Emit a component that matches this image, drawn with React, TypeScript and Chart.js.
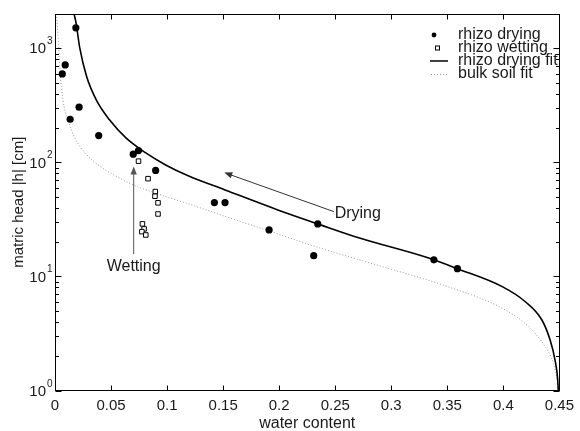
import React, { useEffect, useRef } from 'react';
import { Chart, registerables } from 'chart.js';

Chart.register(...registerables);

// ---- data ----
const DRYING_X = [0.0065, 0.0091, 0.0135, 0.0186, 0.0215, 0.039, 0.0698, 0.0745, 0.0898, 0.1422, 0.1517, 0.191, 0.2308, 0.2344, 0.338, 0.359];
const DRYING_H = [597, 716, 239, 1513, 305, 172, 118, 127, 85, 44.4, 44.4, 25.6, 15.2, 28.9, 14.0, 11.7];

const WETTING_X = [0.0745, 0.083, 0.0895, 0.0892, 0.0919, 0.0919, 0.078, 0.0795, 0.0775, 0.081];
const WETTING_H = [102.5, 72, 55.5, 50.5, 44.2, 35.3, 28.9, 26.1, 24.7, 23.1];

const FIT_X = [0.017, 0.0186, 0.0221, 0.028, 0.0368, 0.0486, 0.0633, 0.081, 0.0987, 0.1193, 0.1517, 0.1988, 0.2344, 0.2724, 0.3313, 0.3589, 0.399, 0.4196, 0.4344, 0.4417, 0.4461, 0.4485, 0.449];
const FIT_H = [2000, 1706, 1010, 574, 353, 236, 164, 121, 95, 76, 57.4, 38.3, 28.9, 21.6, 14.7, 11.7, 8.14, 6.0, 4.15, 2.77, 1.85, 1.24, 1.0];

const BULK_X = [0.0013, 0.00265, 0.0044, 0.0071, 0.0115, 0.0177, 0.0274, 0.0398, 0.0557, 0.0707, 0.0892, 0.1246, 0.1546, 0.1908, 0.2306, 0.2871, 0.346, 0.399, 0.4225, 0.4373, 0.4446, 0.4485, 0.4492];
const BULK_H = [2000, 1313, 648, 353, 236, 164, 119, 93, 74.6, 62.9, 54, 41.5, 32.9, 25.1, 18.5, 12.6, 8.42, 5.26, 3.63, 2.42, 1.73, 1.16, 1.0];

const X_TICKS = [0, 0.05, 0.1, 0.15, 0.2, 0.25, 0.3, 0.35, 0.4, 0.45];
const X_TICK_LABELS = ['0', '0.05', '0.1', '0.15', '0.2', '0.25', '0.3', '0.35', '0.4', '0.45'];
const Y_DECADES = [1, 10, 100, 1000];
const Y_EXPONENTS = ['0', '1', '2', '3'];

const LEGEND_LABELS = ['rhizo drying', 'rhizo wetting', 'rhizo drying fit', 'bulk soil fit'];

// annotations (data coordinates)
const DRYING_ARROW = { x1: 0.2488, y1: 37, x2: 0.151, y2: 81.4 };
const DRYING_TEXT = { x: 0.2495, y: 35.7, text: 'Drying' };
const WETTING_ARROW = { x1: 0.0702, y1: 15.7, x2: 0.0702, y2: 92 };
const WETTING_TEXT = { x: 0.0702, y: 12.3, text: 'Wetting' };

const FONT = "'Liberation Sans', Arial, Helvetica, sans-serif";
const TEXT = '#1a1a1a';

const pts = (xs: number[], ys: number[]) => xs.map((x, i) => ({ x, y: ys[i] }));

function arrow(ctx: CanvasRenderingContext2D, x1: number, y1: number, x2: number, y2: number, color: string) {
  const ang = Math.atan2(y2 - y1, x2 - x1);
  const L = 8, W = 3.2;
  ctx.save();
  ctx.strokeStyle = color;
  ctx.fillStyle = color;
  ctx.lineWidth = 1;
  ctx.beginPath();
  ctx.moveTo(x1, y1);
  ctx.lineTo(x2 - Math.cos(ang) * L * 0.8, y2 - Math.sin(ang) * L * 0.8);
  ctx.stroke();
  ctx.beginPath();
  ctx.moveTo(x2, y2);
  ctx.lineTo(x2 - Math.cos(ang) * L - Math.sin(ang) * W, y2 - Math.sin(ang) * L + Math.cos(ang) * W);
  ctx.lineTo(x2 - Math.cos(ang) * L + Math.sin(ang) * W, y2 - Math.sin(ang) * L - Math.cos(ang) * W);
  ctx.closePath();
  ctx.fill();
  ctx.restore();
}

const overlay = {
  id: 'overlay',
  afterDraw(chart: any) {
    const ctx: CanvasRenderingContext2D = chart.ctx;
    const xs = chart.scales.x;
    const ys = chart.scales.y;
    const { left, right, top, bottom } = chart.chartArea;
    const L = Math.floor(left) + 0.5, R = Math.floor(right) + 0.5, T = Math.floor(top) + 0.5, B = Math.floor(bottom) + 0.5;
    ctx.save();
    // box
    ctx.strokeStyle = '#000';
    ctx.lineWidth = 1;
    ctx.strokeRect(L, T, R - L, B - T);
    // x ticks (inward, bottom and top)
    ctx.beginPath();
    X_TICKS.forEach((v) => {
      const px = Math.round(xs.getPixelForValue(v)) + 0.5;
      ctx.moveTo(px, B); ctx.lineTo(px, B - 5);
      ctx.moveTo(px, T); ctx.lineTo(px, T + 5);
    });
    // y ticks
    Y_DECADES.forEach((d) => {
      for (let k = 1; k <= 9; k++) {
        const v = d * k;
        if (v > 2000) break;
        const py = Math.round(ys.getPixelForValue(v)) + 0.5;
        const len = k === 1 ? 6 : 3.5;
        ctx.moveTo(L, py); ctx.lineTo(L + len, py);
        ctx.moveTo(R, py); ctx.lineTo(R - len, py);
      }
    });
    ctx.stroke();

    // y tick labels with superscript exponent
    ctx.fillStyle = TEXT;
    Y_DECADES.forEach((d, i) => {
      const py = ys.getPixelForValue(d);
      ctx.font = `15px ${FONT}`;
      ctx.textAlign = 'right';
      ctx.textBaseline = 'middle';
      ctx.fillText('10', 46, py + 1);
      ctx.font = `10px ${FONT}`;
      ctx.textAlign = 'left';
      ctx.textBaseline = 'alphabetic';
      ctx.fillText(Y_EXPONENTS[i], 47, py - 4);
    });

    // annotations
    arrow(ctx, xs.getPixelForValue(DRYING_ARROW.x1), ys.getPixelForValue(DRYING_ARROW.y1), xs.getPixelForValue(DRYING_ARROW.x2), ys.getPixelForValue(DRYING_ARROW.y2), '#333');
    arrow(ctx, xs.getPixelForValue(WETTING_ARROW.x1), ys.getPixelForValue(WETTING_ARROW.y1), xs.getPixelForValue(WETTING_ARROW.x2), ys.getPixelForValue(WETTING_ARROW.y2), '#555');
    ctx.fillStyle = TEXT;
    ctx.font = `16px ${FONT}`;
    ctx.textBaseline = 'middle';
    ctx.textAlign = 'left';
    ctx.fillText(DRYING_TEXT.text, xs.getPixelForValue(DRYING_TEXT.x), ys.getPixelForValue(DRYING_TEXT.y));
    ctx.textAlign = 'center';
    ctx.fillText(WETTING_TEXT.text, xs.getPixelForValue(WETTING_TEXT.x), ys.getPixelForValue(WETTING_TEXT.y));

    // legend
    const lx = 458, ly0 = 35, step = 13;
    LEGEND_LABELS.forEach((lab, i) => {
      const y = ly0 + i * step;
      if (i === 0) {
        ctx.fillStyle = '#000';
        ctx.beginPath(); ctx.arc(434, y, 2.4, 0, Math.PI * 2); ctx.fill();
      } else if (i === 1) {
        ctx.strokeStyle = '#000'; ctx.lineWidth = 1;
        ctx.strokeRect(435.5, y - 2, 4, 4);
      } else if (i === 2) {
        ctx.strokeStyle = '#000'; ctx.lineWidth = 1.5;
        ctx.beginPath(); ctx.moveTo(430, y); ctx.lineTo(448, y); ctx.stroke();
      } else {
        ctx.strokeStyle = '#999'; ctx.lineWidth = 1; ctx.setLineDash([1, 2]);
        ctx.beginPath(); ctx.moveTo(431, y + 0.5); ctx.lineTo(448, y + 0.5); ctx.stroke();
        ctx.setLineDash([]);
      }
      ctx.fillStyle = TEXT;
      ctx.font = `16px ${FONT}`;
      ctx.textAlign = 'left';
      ctx.textBaseline = 'middle';
      ctx.fillText(lab, lx, y);
    });
    ctx.restore();
  },
};

export default function App() {
  const ref = useRef<HTMLCanvasElement>(null);
  useEffect(() => {
    const canvas = ref.current;
    if (!canvas) return;
    const chart = new Chart(canvas, {
      type: 'scatter',
      data: {
        datasets: [
          {
            label: LEGEND_LABELS[0],
            data: pts(DRYING_X, DRYING_H),
            pointStyle: 'circle',
            pointRadius: 3.6,
            backgroundColor: '#000',
            borderColor: '#000',
            borderWidth: 0,
            showLine: false,
          },
          {
            label: LEGEND_LABELS[1],
            data: pts(WETTING_X, WETTING_H),
            pointStyle: 'rect',
            pointRadius: 3.2,
            backgroundColor: '#fff',
            borderColor: '#000',
            borderWidth: 1,
            showLine: false,
          },
          {
            label: LEGEND_LABELS[2],
            data: pts(FIT_X, FIT_H),
            showLine: true,
            borderColor: '#000',
            borderWidth: 1.6,
            pointRadius: 0,
            cubicInterpolationMode: 'monotone',
          } as any,
          {
            label: LEGEND_LABELS[3],
            data: pts(BULK_X, BULK_H),
            showLine: true,
            borderColor: '#999',
            borderWidth: 1,
            borderDash: [1, 2],
            pointRadius: 0,
            cubicInterpolationMode: 'monotone',
          } as any,
        ],
      },
      options: {
        animation: false,
        responsive: false,
        devicePixelRatio: 1,
        layout: { padding: { top: 14, right: 15.5, left: 0, bottom: 0 } },
        plugins: { legend: { display: false }, tooltip: { enabled: false } },
        scales: {
          x: {
            type: 'linear',
            min: 0,
            max: 0.45,
            afterFit: (s: any) => { s.height = 40.5; },
            afterBuildTicks: (s: any) => { s.ticks = X_TICKS.map((v) => ({ value: v })); },
            ticks: {
              callback: (_v: any, i: number) => X_TICK_LABELS[i],
              font: { family: FONT, size: 15 },
              color: TEXT,
              padding: 6,
              maxRotation: 0,
              autoSkip: false,
            },
            grid: { display: false, drawTicks: false },
            border: { display: false },
            title: { display: true, text: 'water content', font: { family: FONT, size: 16 }, color: TEXT, padding: { top: 0, bottom: -2 } },
          },
          y: {
            type: 'logarithmic',
            min: 1,
            max: 2000,
            afterFit: (s: any) => { s.width = 55; },
            ticks: { display: false },
            grid: { display: false, drawTicks: false },
            border: { display: false },
            title: { display: true, text: 'matric head |h| [cm]', font: { family: FONT, size: 15 }, color: TEXT, padding: { top: 10, bottom: 0 } },
          },
        },
      },
      plugins: [overlay],
    } as any);
    return () => chart.destroy();
  }, []);
  return (
    <div style={{ position: 'fixed', left: 0, top: 0, width: 580, height: 431, background: '#fff' }}>
      <canvas ref={ref} width={580} height={431} style={{ width: 580, height: 431, display: 'block' }} />
    </div>
  );
}
